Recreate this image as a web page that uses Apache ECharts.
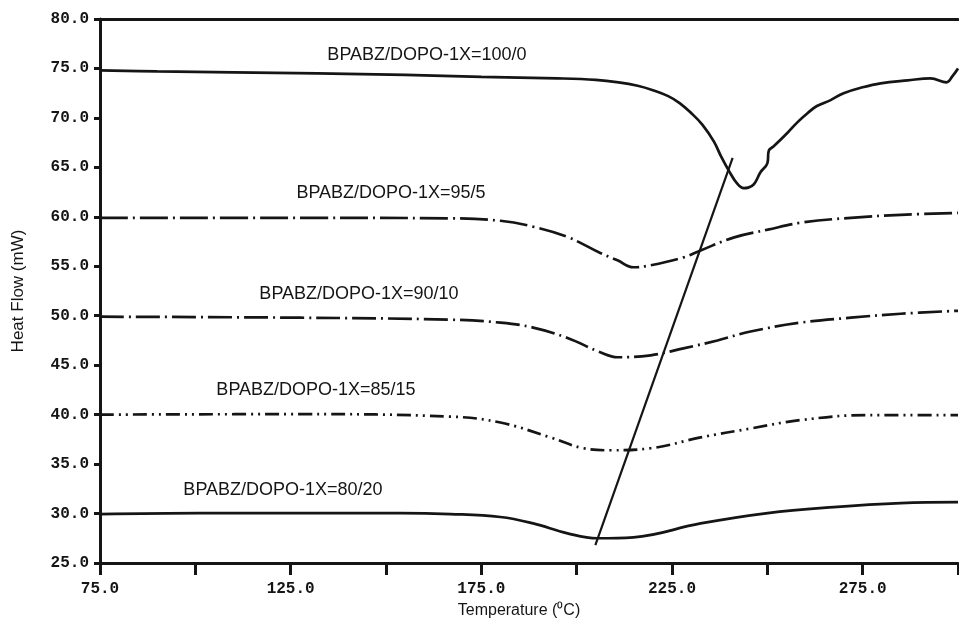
<!DOCTYPE html>
<html><head><meta charset="utf-8">
<script src="https://cdn.jsdelivr.net/npm/echarts@6/dist/echarts.min.js"></script>
<style>html,body{margin:0;padding:0;background:#fff}#c{width:959px;height:622px}</style>
</head><body><div id="c"></div>
<script>
// Series names
const seriesNames = ['BPABZ/DOPO-1X=100/0','BPABZ/DOPO-1X=95/5','BPABZ/DOPO-1X=90/10','BPABZ/DOPO-1X=85/15','BPABZ/DOPO-1X=80/20'];
// [Temperature (°C), Heat Flow (mW)]
const s100_0 = [[75,74.8],[90,74.7],[110,74.6],[132,74.5],[155,74.35],[175,74.15],[195,74.0],[205,73.85],[211,73.6],[216,73.25],[220,72.8],[224,72.2],[227,71.5],[230,70.5],[233,69.3],[236,67.6],[238,66.0],[240,64.6],[242,63.4],[243.8,62.9],[245,62.95],[246.5,63.3],[248.2,64.5],[250,65.4],[250.4,66.7],[251.6,67.1],[255.3,68.5],[258,69.6],[260.6,70.5],[263,71.2],[266.6,71.8],[270,72.5],[275,73.1],[279.7,73.5],[286.8,73.8],[292.8,74.0],[297,73.6],[298.5,74.2],[300,75.0]];
const s95_5 = [[75,59.9],[127.5,59.9],[166.9,59.85],[180,59.6],[188.6,59.0],[197.6,57.96],[206.2,56.34],[210.7,55.6],[214.9,54.9],[219.4,55.1],[228.0,55.9],[232.5,56.6],[241.1,57.9],[250.1,58.7],[258.7,59.4],[271.9,59.9],[285.0,60.2],[300,60.4]];
const s90_10 = [[75,49.9],[127.5,49.8],[166.9,49.6],[180,49.3],[188.6,48.8],[197.6,47.75],[206.2,46.3],[210.7,45.8],[219.4,46.0],[228.0,46.7],[236.9,47.5],[245.6,48.4],[258.7,49.3],[271.9,49.8],[285,50.2],[300,50.5]];
const s85_15 = [[75,40.0],[127.5,40.05],[166.9,39.8],[180,39.2],[193.1,37.7],[201.8,36.6],[208.9,36.4],[219.4,36.6],[232.5,37.7],[245.6,38.6],[258.7,39.45],[276.3,39.96],[300,39.96]];
const s80_20 = [[75,29.95],[101.2,30.05],[127.5,30.05],[153.7,30.05],[166.9,29.95],[180,29.65],[188.6,29.0],[197.6,28.0],[205.4,27.5],[214.9,27.6],[232.5,29.0],[250.1,30.05],[267.4,30.65],[285,31.05],[300,31.15]];
// Peak tangent line
const peakLine = [[204.9,26.8],[240.9,65.95]];
const xTitle = 'Temperature (\u2070C)';
const yTitle = 'Heat Flow (mW)';

const chart = echarts.init(document.getElementById('c'), null, {renderer:'canvas'});
const ink = '#151515';
const tickFont = {fontFamily:'Liberation Mono', fontWeight:'bold', fontSize:16, color:ink};
function line(name, data, type){
  return {name, type:'line', data, smooth:0.4, symbol:'none', xAxisIndex:0, yAxisIndex:0,
    lineStyle:{color:ink, width:2.7, type:type}, animation:false};
}
const labelFont = {fontFamily:'Liberation Sans, Arial', fontSize:18, fill:ink};
const labelPos = [[427,55],[391,193],[359,294],[316,390],[283,490]];
chart.setOption({
  animation:false,
  backgroundColor:'#fff',
  grid:{left:100, right:1, top:19, bottom:59, containLabel:false, outerBoundsMode:'none'},
  xAxis:[{type:'value', min:75, max:300, interval:25, position:'bottom',
    axisLine:{show:true, lineStyle:{color:ink, width:3}},
    axisTick:{show:true, inside:false, length:12, lineStyle:{color:ink, width:3}},
    axisLabel:Object.assign({margin:18, formatter:v => ((v-75)%50===0 ? v.toFixed(1) : '')}, tickFont),
    splitLine:{show:false},
    name:xTitle, nameLocation:'middle', nameGap:40,
    nameTextStyle:{fontFamily:'Liberation Sans, Arial', fontSize:16, color:ink, padding:[0,20,0,0]}
  },{type:'value', min:75, max:300, position:'top',
    axisLine:{show:true, lineStyle:{color:ink, width:3}}, axisTick:{show:false}, axisLabel:{show:false}, splitLine:{show:false}}],
  yAxis:[{type:'value', min:25, max:80, interval:5,
    axisLine:{show:true, lineStyle:{color:ink, width:3}},
    axisTick:{show:true, length:6, lineStyle:{color:ink, width:3}},
    axisLabel:Object.assign({margin:11, formatter:v => v.toFixed(1)}, tickFont),
    splitLine:{show:false},
    name:yTitle, nameLocation:'middle', nameGap:73, nameRotate:90,
    nameTextStyle:{fontFamily:'Liberation Sans, Arial', fontSize:17, color:ink}
  }],
  series:[
    line(seriesNames[0], s100_0, 'solid'),
    line(seriesNames[1], s95_5, [28,5,2,5]),
    line(seriesNames[2], s90_10, [24,5,2,5]),
    line(seriesNames[3], s85_15, [14,5,2,5,2,5]),
    line(seriesNames[4], s80_20, 'solid'),
    {name:'tangent', type:'line', data:peakLine, symbol:'none', lineStyle:{color:ink, width:2.2}, animation:false}
  ],
  graphic: seriesNames.map((n,i)=>({type:'text', style:Object.assign({text:n, x:0, y:0, align:'center', verticalAlign:'middle'}, labelFont),
    x:labelPos[i][0], y:labelPos[i][1]}))
});
</script></body></html>
